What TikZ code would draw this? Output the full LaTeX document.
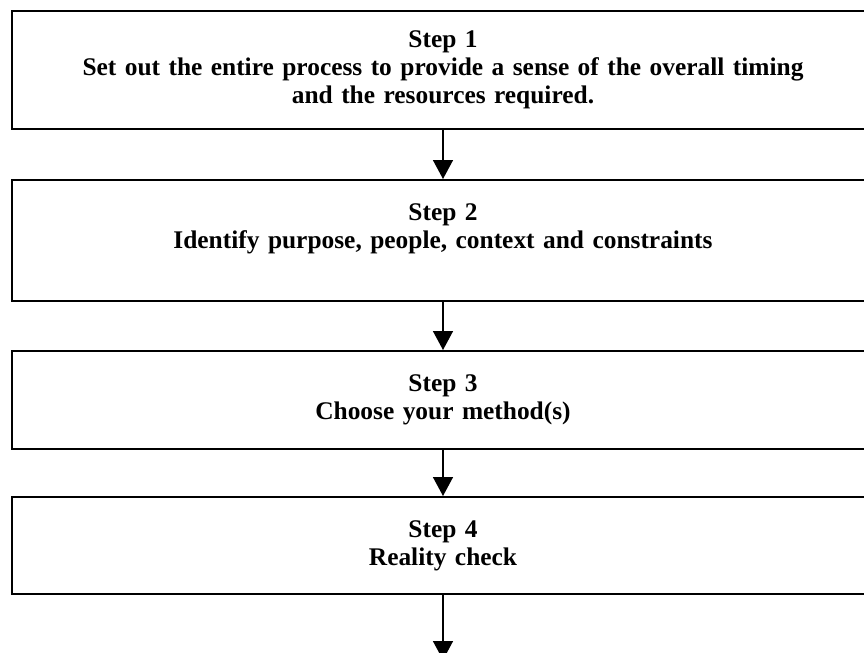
\documentclass[tikz,border=0pt]{standalone}
\usepackage{fontspec}
\setmainfont{Liberation Serif}
\usetikzlibrary{arrows.meta, positioning}
\tikzstyle{stepbox} = [rectangle, line width=1pt, minimum width=431pt, text width=420pt, text centered, draw=black, font=\fontsize{12.7}{14}\selectfont\bfseries]
\tikzstyle{arrow} = [line width=0.8pt, -{Triangle[width=10pt, length=9.5pt]}]

\begin{document}
\begin{tikzpicture}[node distance = 24pt]
	\useasboundingbox (0,0) rectangle (432pt,-326.5pt);
	\node (Step1) [stepbox, minimum height=59pt, anchor=north west] at (5.5pt,-5pt) {Step 1\\Set out the entire process to provide a sense of the overall timing\\and the resources required.};
	\node (Step2) [stepbox, minimum height=60.5pt, below = 24.5pt of Step1] {Step 2\\Identify purpose, people, context and constraints\\\mbox{}};
	\node (Step3) [stepbox, minimum height=49pt, below = 24pt of Step2] {Step 3\\Choose your method(s)};
	\node (Step4) [stepbox, minimum height=48.5pt, below = 23pt of Step3] {Step 4\\Reality check};
	\coordinate [below = 32.5pt of Step4] (Next);
	\draw [arrow] (Step1) -- (Step2);
	\draw [arrow] (Step2) -- (Step3);
	\draw [arrow] (Step3) -- (Step4);
	\draw [arrow] (Step4) -- (Next);
\end{tikzpicture}
\end{document}
